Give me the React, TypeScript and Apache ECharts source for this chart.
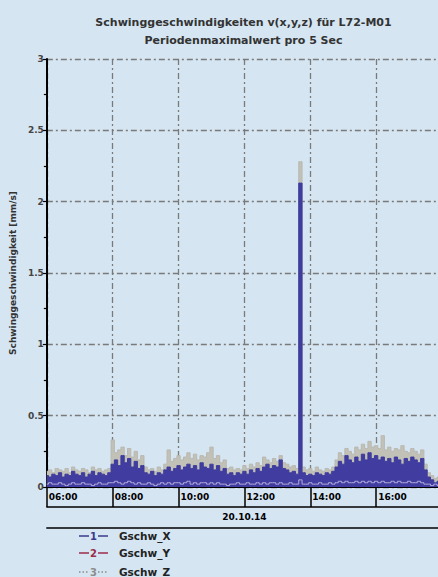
import React, { useEffect, useRef } from "react";
import * as echarts from "echarts";

// 06:00 .. 18:00, one sample every 6 minutes
const times: string[] = [];
for (let m = 6 * 60; m <= 18 * 60; m += 6) {
  const h = Math.floor(m / 60);
  const mm = m % 60;
  times.push(`${String(h).padStart(2, "0")}:${String(mm).padStart(2, "0")}`);
}

const gschwX = [
  0.08, 0.07, 0.09, 0.08, 0.10, 0.07, 0.09, 0.08, 0.11, 0.09,
  0.08, 0.10, 0.07, 0.09, 0.11, 0.08, 0.10, 0.09, 0.08, 0.10,
  0.16, 0.19, 0.15, 0.22, 0.17, 0.20, 0.14, 0.18, 0.13, 0.15,
  0.10, 0.09, 0.11, 0.08, 0.10, 0.09, 0.12, 0.14, 0.11, 0.13,
  0.15, 0.12, 0.14, 0.16, 0.13, 0.15, 0.12, 0.17, 0.14, 0.13,
  0.16, 0.12, 0.15, 0.11, 0.13, 0.09, 0.10, 0.08, 0.10, 0.09,
  0.11, 0.09, 0.12, 0.10, 0.13, 0.11, 0.14, 0.16, 0.13, 0.15,
  0.14, 0.19, 0.13, 0.12, 0.10, 0.11, 0.09, 2.13, 0.10, 0.08,
  0.09, 0.08, 0.10, 0.09, 0.08, 0.10, 0.09, 0.11, 0.14, 0.18,
  0.16, 0.22, 0.19, 0.17, 0.21, 0.18, 0.23, 0.19, 0.24, 0.20,
  0.22, 0.19, 0.21, 0.18, 0.20, 0.17, 0.21, 0.19, 0.16, 0.20,
  0.18, 0.21, 0.19, 0.17, 0.20, 0.12, 0.07, 0.05, 0.03, 0.04, 0.05,
];

const gschwY = [
  0.02, 0.03, 0.02, 0.02, 0.03, 0.02, 0.01, 0.02, 0.03, 0.02,
  0.02, 0.03, 0.02, 0.02, 0.01, 0.02, 0.03, 0.02, 0.02, 0.03,
  0.03, 0.04, 0.03, 0.02, 0.03, 0.04, 0.03, 0.02, 0.03, 0.02,
  0.02, 0.03, 0.02, 0.01, 0.02, 0.03, 0.02, 0.03, 0.02, 0.03,
  0.03, 0.02, 0.03, 0.04, 0.02, 0.03, 0.02, 0.03, 0.03, 0.02,
  0.03, 0.02, 0.03, 0.02, 0.02, 0.01, 0.02, 0.02, 0.03, 0.02,
  0.02, 0.03, 0.02, 0.02, 0.03, 0.02, 0.03, 0.02, 0.03, 0.03,
  0.02, 0.03, 0.02, 0.02, 0.03, 0.02, 0.02, 0.05, 0.02, 0.02,
  0.03, 0.02, 0.02, 0.03, 0.02, 0.02, 0.03, 0.02, 0.03, 0.04,
  0.03, 0.04, 0.03, 0.03, 0.04, 0.03, 0.04, 0.03, 0.04, 0.03,
  0.04, 0.03, 0.04, 0.03, 0.03, 0.04, 0.03, 0.04, 0.03, 0.03,
  0.04, 0.03, 0.03, 0.04, 0.03, 0.02, 0.02, 0.01, 0.02, 0.01, 0.02,
];

const gschwZ = [
  0.11, 0.12, 0.10, 0.13, 0.12, 0.11, 0.13, 0.10, 0.14, 0.12,
  0.11, 0.13, 0.12, 0.10, 0.14, 0.12, 0.13, 0.11, 0.12, 0.13,
  0.33, 0.24, 0.26, 0.28, 0.22, 0.27, 0.21, 0.25, 0.19, 0.22,
  0.14, 0.12, 0.13, 0.11, 0.14, 0.12, 0.16, 0.26, 0.18, 0.20,
  0.22, 0.19, 0.21, 0.24, 0.20, 0.23, 0.19, 0.22, 0.21, 0.24,
  0.28, 0.20, 0.22, 0.17, 0.19, 0.13, 0.14, 0.12, 0.13, 0.12,
  0.15, 0.13, 0.16, 0.14, 0.17, 0.15, 0.21, 0.19, 0.17, 0.20,
  0.18, 0.22, 0.17, 0.16, 0.14, 0.15, 0.13, 2.28, 0.14, 0.12,
  0.13, 0.11, 0.14, 0.12, 0.11, 0.13, 0.12, 0.14, 0.19, 0.24,
  0.22, 0.27, 0.25, 0.23, 0.28, 0.26, 0.30, 0.27, 0.32, 0.28,
  0.29, 0.27, 0.36, 0.26, 0.28, 0.25, 0.27, 0.26, 0.29, 0.25,
  0.24, 0.27, 0.25, 0.23, 0.26, 0.16, 0.10, 0.08, 0.06, 0.07, 0.08,
];

const legendItems = [
  { num: "1", name: "Gschw_X", color: "#3a3a8c", dash: "solid" },
  { num: "2", name: "Gschw_Y", color: "#9b2b4b", dash: "solid" },
  { num: "3", name: "Gschw_Z", color: "#8c8c8c", dash: "dotted" },
];

const titleText = "Schwinggeschwindigkeiten v(x,y,z) für L72-M01";
const subTitleText = "Periodenmaximalwert pro 5 Sec";
const dateLabel = "20.10.14";
const yName = "Schwinggeschwindigkeit [mm/s]";

const BG = "#d5e5f2";
const FONT = "DejaVu Sans";
const gridLine = { color: "#7a7a7a", width: 1.3, type: [6, 3, 2, 3] as any };

export default function App() {
  const ref = useRef<HTMLDivElement>(null);
  useEffect(() => {
    if (!ref.current) return;
    const chart = echarts.init(ref.current, undefined, { renderer: "svg" });
    const legendRows = [536, 553, 572];
    const graphic: any[] = [];
    legendItems.forEach((it, i) => {
      const y = legendRows[i];
      const ls = { stroke: it.color, lineWidth: 1.5, lineDash: it.dash === "dotted" ? [1.5, 2] : null };
      graphic.push({ type: "line", shape: { x1: 79, y1: y, x2: 89, y2: y }, style: ls });
      graphic.push({ type: "line", shape: { x1: 98, y1: y, x2: 108, y2: y }, style: ls });
      graphic.push({
        type: "text", x: 93.5, y,
        style: { text: it.num, fill: it.color, font: `bold 10px "${FONT}"`, align: "center", verticalAlign: "middle" },
      });
      graphic.push({
        type: "text", x: 119, y,
        style: { text: it.name, fill: "#222", font: `bold 10.5px "${FONT}"`, align: "left", verticalAlign: "middle" },
      });
    });

    const baseX = {
      type: "category",
      data: times,
      boundaryGap: false,
      gridIndex: 0,
      position: "bottom",
    };

    chart.setOption({
      animation: false,
      backgroundColor: BG,
      title: {
        text: titleText,
        subtext: subTitleText,
        left: "center",
        top: 10,
        itemGap: 4,
        textStyle: { fontSize: 11, fontWeight: "bold", color: "#333", fontFamily: FONT, lineHeight: 14 },
        subtextStyle: { fontSize: 11, fontWeight: "bold", color: "#333", fontFamily: FONT, lineHeight: 14 },
      },
      grid: { left: 45, right: 45, top: 59, bottom: 90, containLabel: false },
      xAxis: [
        {
          ...baseX,
          axisLine: { show: true, lineStyle: { color: "#000", width: 2 } },
          axisTick: { show: true, interval: 19, length: 20, lineStyle: { color: "#000", width: 1.5 } },
          axisLabel: {
            interval: 19, align: "left", margin: 5, padding: [0, 0, 0, 2], showMaxLabel: false,
            fontSize: 9, fontWeight: "bold", color: "#000", fontFamily: FONT,
          },
          splitLine: { show: true, interval: 19, lineStyle: gridLine },
          name: dateLabel,
          nameLocation: "middle",
          nameGap: 25,
          nameTextStyle: { fontSize: 9, fontWeight: "bold", color: "#000", fontFamily: FONT },
        },
        {
          ...baseX,
          offset: 20,
          axisLine: { show: true, lineStyle: { color: "#000", width: 1.5 } },
          axisTick: { show: false },
          axisLabel: { show: false },
          splitLine: { show: false },
        },
        {
          ...baseX,
          offset: 41,
          axisLine: { show: true, lineStyle: { color: "#000", width: 1.5 } },
          axisTick: { show: false },
          axisLabel: { show: false },
          splitLine: { show: false },
        },
      ],
      yAxis: {
        type: "value",
        min: 0,
        max: 3,
        interval: 0.5,
        axisLine: { show: true, lineStyle: { color: "#000", width: 2 } },
        axisTick: { show: true, length: 4, lineStyle: { color: "#000", width: 1.2 } },
        minorTick: { show: true, splitNumber: 2, length: 3, lineStyle: { color: "#000", width: 1.2 } },
        splitLine: { show: true, lineStyle: gridLine },
        axisLabel: {
          margin: 3, fontSize: 9, fontWeight: "bold", color: "#444", fontFamily: FONT,
          formatter: (v: number) => String(v),
        },
        name: yName,
        nameLocation: "middle",
        nameGap: 26,
        nameTextStyle: { fontSize: 9, fontWeight: "bold", color: "#333", fontFamily: FONT },
      },
      series: [
        {
          name: "Gschw_Z", type: "line", data: gschwZ, step: "middle", symbol: "none",
          lineStyle: { color: "#b9b8b0", width: 1 },
          areaStyle: { color: "#c2c1b8", opacity: 1 },
          z: 2,
        },
        {
          name: "Gschw_X", type: "line", data: gschwX, step: "middle", symbol: "none",
          lineStyle: { color: "#3d3a9c", width: 1 },
          areaStyle: { color: "#413da0", opacity: 1 },
          z: 3,
        },
        {
          name: "Gschw_Y", type: "line", data: gschwY, step: "middle", symbol: "none",
          lineStyle: { color: "#b4acdc", width: 1 },
          z: 4,
        },
      ],
      graphic,
    });
    return () => chart.dispose();
  }, []);
  return (
    <div style={{ position: "fixed", left: 0, top: 0, width: 438, height: 577, overflow: "hidden", background: BG }}>
      <div ref={ref} style={{ width: 487, height: 577 }} />
    </div>
  );
}
